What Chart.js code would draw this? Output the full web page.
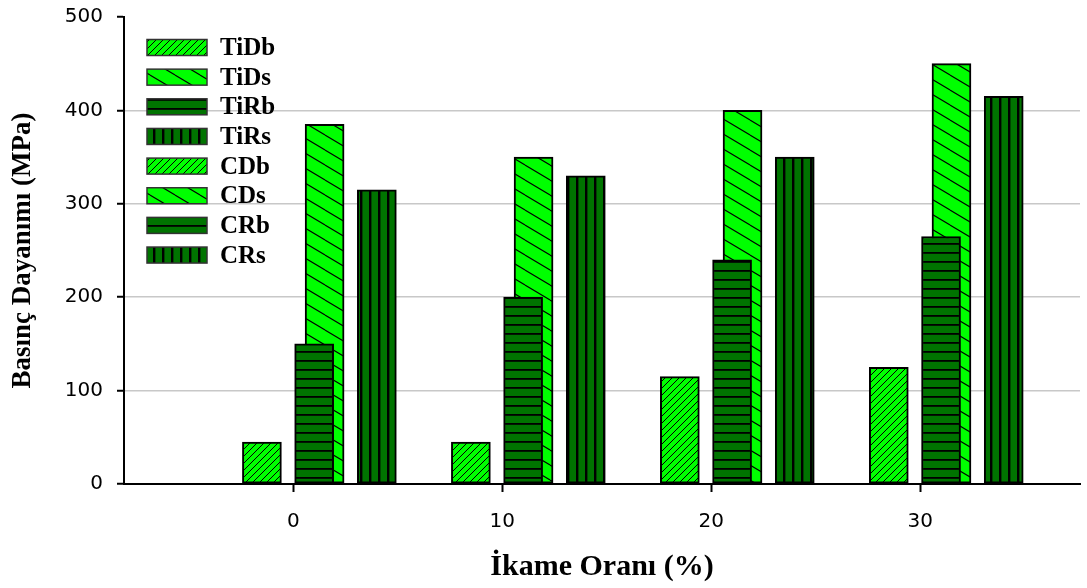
<!DOCTYPE html>
<html>
<head>
<meta charset="utf-8">
<script src="https://cdn.jsdelivr.net/npm/chart.js@4"></script>
<style>
  body { margin: 0; background: #fff; }
</style>
</head>
<body>
<canvas id="graf" width="1087" height="588"></canvas>
<script>
// data
const categories = [0, 10, 20, 30];
const seriesNames = ['TiDb', 'TiDs', 'TiRb', 'TiRs', 'CDb', 'CDs', 'CRb', 'CRs'];
const tiDb = [45, 45, 115, 125];
const tiDs = [385, 350, 400, 450];
const tiRb = [150, 200, 240, 265];
const tiRs = [315, 330, 350, 415];
const cDb = [null, null, null, null];
const cDs = [null, null, null, null];
const cRb = [null, null, null, null];
const cRs = [null, null, null, null];
const yTicks = [0, 100, 200, 300, 400, 500];

const lightGreen = '#00FF00';
const darkGreen = '#007400';
const serif = '"Liberation Serif", "Times New Roman", serif';

function makePattern(bg, kind) {
    const c = document.createElement('canvas');
    const g = c.getContext('2d');
    if (kind == 'fwd') {
        c.width = 7; c.height = 7;
        g.fillStyle = bg; g.fillRect(0, 0, 7, 7);
        g.strokeStyle = '#000'; g.lineWidth = 1;
        g.beginPath();
        g.moveTo(-1, 8); g.lineTo(8, -1);
        g.moveTo(-1, 1); g.lineTo(1, -1);
        g.moveTo(6, 8); g.lineTo(8, 6);
        g.stroke();
    } else if (kind == 'back') {
        c.width = 25; c.height = 15;
        g.fillStyle = bg; g.fillRect(0, 0, 25, 15);
        g.strokeStyle = '#000'; g.lineWidth = 1.1;
        g.beginPath();
        for (let k = -1; k <= 1; k++) {
            g.moveTo(0, k * 15); g.lineTo(25, 15 + k * 15);
        }
        g.stroke();
    } else if (kind == 'horiz') {
        c.width = 4; c.height = 9;
        g.fillStyle = bg; g.fillRect(0, 0, 4, 9);
        g.fillStyle = '#000'; g.fillRect(0, 0, 4, 1.8);
    } else {
        c.width = 9; c.height = 4;
        g.fillStyle = bg; g.fillRect(0, 0, 9, 4);
        g.fillStyle = '#000'; g.fillRect(0, 0, 2.4, 4);
    }
    return g.createPattern(c, 'repeat');
}

const ctx = document.getElementById('graf').getContext('2d');

const fills = {
    b1: makePattern(lightGreen, 'fwd'),
    s1: makePattern(lightGreen, 'back'),
    b2: makePattern(darkGreen, 'horiz'),
    s2: makePattern(darkGreen, 'vert')
};

// offset of each series from its category (x units) and draw order
const seriesStyle = [
    { fill: fills.b1, offset: -1.5, order: 0 },
    { fill: fills.s1, offset: 1.5, order: 1 },
    { fill: fills.b2, offset: 1.0, order: 0 },
    { fill: fills.s2, offset: 4.0, order: 0 },
    { fill: fills.b1, offset: -1.5, order: 0 },
    { fill: fills.s1, offset: 1.5, order: 1 },
    { fill: fills.b2, offset: 1.0, order: 0 },
    { fill: fills.s2, offset: 4.0, order: 0 }
];
const seriesValues = [tiDb, tiDs, tiRb, tiRs, cDb, cDs, cRb, cRs];

const datasets = seriesNames.map((name, i) => ({
    label: name,
    data: categories.map((c, j) => ({ x: c + seriesStyle[i].offset, y: seriesValues[i][j] })),
    backgroundColor: seriesStyle[i].fill,
    borderColor: '#000',
    borderWidth: 2,
    borderSkipped: false,
    barThickness: 39,
    grouped: false,
    order: seriesStyle[i].order
}));

// legend drawn inside plot area
const legendInside = {
    id: 'legendInside',
    afterDatasetsDraw(chart) {
        const a = chart.chartArea;
        const c = chart.ctx;
        c.save();
        chart.data.datasets.forEach((ds, i) => {
            const cy = a.top + 30.5 + i * 29.65;
            const bx = a.left + 23;
            c.fillStyle = ds.backgroundColor;
            c.fillRect(bx, cy - 8, 60, 16);
            c.strokeStyle = '#333';
            c.lineWidth = 1.5;
            c.strokeRect(bx, cy - 8, 60, 16);
            c.fillStyle = '#000';
            c.font = 'bold 25px ' + serif;
            c.textBaseline = 'middle';
            c.fillText(ds.label, a.left + 96, cy + 1);
        });
        c.restore();
    }
};

const grafico = new Chart(ctx, {
    type: 'bar',
    data: { datasets: datasets },
    plugins: [legendInside],
    options: {
        responsive: false,
        animation: false,
        devicePixelRatio: 1,
        layout: { padding: { top: 17, right: 7, left: 0, bottom: 0 } },
        plugins: {
            legend: { display: false },
            tooltip: { enabled: false }
        },
        scales: {
            x: {
                type: 'linear',
                min: -8.1,
                max: 37.65,
                offset: false,
                afterBuildTicks: (s) => { s.ticks = categories.map(v => ({ value: v })); },
                afterFit: (s) => { s.height = 104; },
                grid: { offset: false, drawOnChartArea: false, tickColor: '#000', tickLength: 8, tickWidth: 2 },
                border: { color: '#000', width: 2 },
                ticks: {
                    color: '#000',
                    padding: 18,
                    font: { family: '"DejaVu Sans"', size: 20 }
                },
                title: {
                    display: true,
                    text: 'İkame Oranı (%)',
                    color: '#000',
                    font: { family: serif, size: 30, weight: 'bold' },
                    padding: { top: 0, bottom: 3 }
                }
            },
            y: {
                min: 0,
                max: 500,
                afterBuildTicks: (s) => { s.ticks = yTicks.map(v => ({ value: v })); },
                afterFit: (s) => { s.width = 124; s.paddingTop = 0; s.paddingBottom = 0; },
                grid: {
                    color: (c) => (c.tick && (c.tick.value == 0 || c.tick.value == 500)) ? 'rgba(0,0,0,0)' : '#c8c8c8',
                    lineWidth: 1.5,
                    tickColor: '#000',
                    tickLength: 7,
                    tickWidth: 2
                },
                border: { color: '#000', width: 2 },
                ticks: {
                    color: '#000',
                    padding: 14,
                    font: { family: '"DejaVu Sans"', size: 20 }
                },
                title: {
                    display: true,
                    text: 'Basınç Dayanımı (MPa)',
                    color: '#000',
                    font: { family: serif, size: 27, weight: 'bold' },
                    padding: { top: 7, bottom: 0 }
                }
            }
        }
    }
});
</script>
</body>
</html>
